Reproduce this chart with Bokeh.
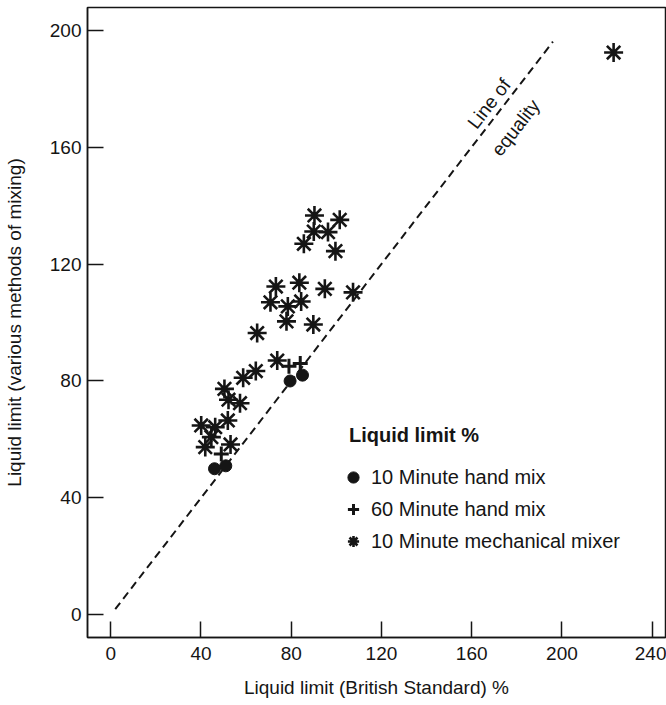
import math

from bokeh.plotting import figure
from bokeh.models import Legend, LegendItem, Label, FixedTicker, Range1d
from bokeh.embed import file_html
from bokeh.resources import INLINE
from bokeh.core.properties import value

# Liquid limit by the British Standard method (x) against other mixing methods (y)
hand10_x = [46, 51, 79.5, 85]
hand10_y = [50, 51, 80, 82]

hand60_x = [49, 79, 84]
hand60_y = [55, 85, 86]

mech_x = [90.3, 101.5, 90.0, 96.3, 85.6, 99.6, 73.2, 83.6, 94.9, 107.4,
          70.8, 78.5, 84.4, 77.9, 89.8, 64.9, 73.8, 58.7, 64.3, 50.4,
          52.2, 57.3, 40.1, 46.3, 51.9, 44.6, 41.9, 53.1, 222.9]
mech_y = [136.6, 135.1, 131.1, 130.9, 126.9, 124.4, 112.3, 113.6, 111.5, 110.3,
          106.9, 105.5, 107.2, 100.4, 99.3, 96.4, 87.0, 81.1, 83.4, 77.3,
          73.6, 72.4, 64.8, 64.2, 66.5, 60.8, 57.4, 58.3, 192.3]

equality = [2, 196]

x_ticks = [0, 40, 80, 120, 160, 200, 240]
y_ticks = [0, 40, 80, 120, 160, 200]

legend_title = "Liquid limit %"
series_names = ["10 Minute hand mix", "60 Minute hand mix", "10 Minute mechanical mixer"]

INK = "#151515"
FONT = "Liberation Sans"

p = figure(width=666, height=705,
           x_range=Range1d(-10.3, 245.9), y_range=Range1d(-7.7, 207.7),
           output_backend="svg", toolbar_location=None,
           min_border_left=86, min_border_right=1,
           min_border_top=7, min_border_bottom=68)

p.xgrid.visible = False
p.ygrid.visible = False
p.outline_line_color = INK
p.outline_line_width = 1.5
p.background_fill_color = "white"
p.border_fill_color = "white"

for ax in (p.xaxis[0], p.yaxis[0]):
    ax.major_tick_in = 16
    ax.major_tick_out = 0
    ax.minor_tick_in = 0
    ax.minor_tick_out = 0
    ax.axis_line_color = INK
    ax.axis_line_width = 1.5
    ax.major_tick_line_color = INK
    ax.major_tick_line_width = 1.5
    ax.major_label_text_font = FONT
    ax.major_label_text_font_size = "19px"
    ax.major_label_text_color = INK
    ax.axis_label_text_font = FONT
    ax.axis_label_text_font_size = "19px"
    ax.axis_label_text_font_style = "normal"
    ax.axis_label_text_color = INK

p.xaxis.ticker = FixedTicker(ticks=x_ticks)
p.yaxis.ticker = FixedTicker(ticks=y_ticks)
p.xaxis.major_label_standoff = 9
p.yaxis.major_label_standoff = 6
p.xaxis.axis_label = "Liquid limit (British Standard) %"
p.yaxis.axis_label = "Liquid limit (various methods of mixing)"
p.xaxis.axis_label_standoff = 14
p.yaxis.axis_label_standoff = 22

# line of equality
p.line(equality, equality, line_color=INK, line_width=2, line_dash="8 5")
ang = math.atan(2.925 / 2.26)
p.text(x=[167.7], y=[174.8], text=["Line of"], angle=ang,
       text_align="center", text_baseline="middle",
       text_font=value(FONT), text_font_size="19px", text_color=INK)
p.text(x=[179.5], y=[166.6], text=["equality"], angle=ang,
       text_align="center", text_baseline="middle",
       text_font=value(FONT), text_font_size="19px", text_color=INK)

r_mech = p.scatter(mech_x, mech_y, marker="asterisk", size=19,
                   line_color=INK, line_width=2.6)
r_h60 = p.scatter(hand60_x, hand60_y, marker="cross", size=15,
                  line_color=INK, line_width=3)
r_h10 = p.scatter(hand10_x, hand10_y, marker="circle", size=12,
                  fill_color=INK, line_color=INK)

legend = Legend(items=[LegendItem(label=series_names[0], renderers=[r_h10]),
                       LegendItem(label=series_names[1], renderers=[r_h60]),
                       LegendItem(label=series_names[2], renderers=[r_mech])],
                location=(252, 82), padding=0, margin=0, spacing=4,
                glyph_width=28, glyph_height=28, label_height=28,
                label_standoff=4,
                label_text_font=FONT, label_text_font_size="20px",
                label_text_color=INK,
                border_line_alpha=0, background_fill_alpha=0)
p.add_layout(legend, "center")

p.add_layout(Label(x=105.6, y=61.4, text=legend_title,
                   text_font=FONT, text_font_size="20px",
                   text_font_style="bold", text_color=INK,
                   text_baseline="middle"))

open("out.html", "w").write(file_html(p, INLINE))
